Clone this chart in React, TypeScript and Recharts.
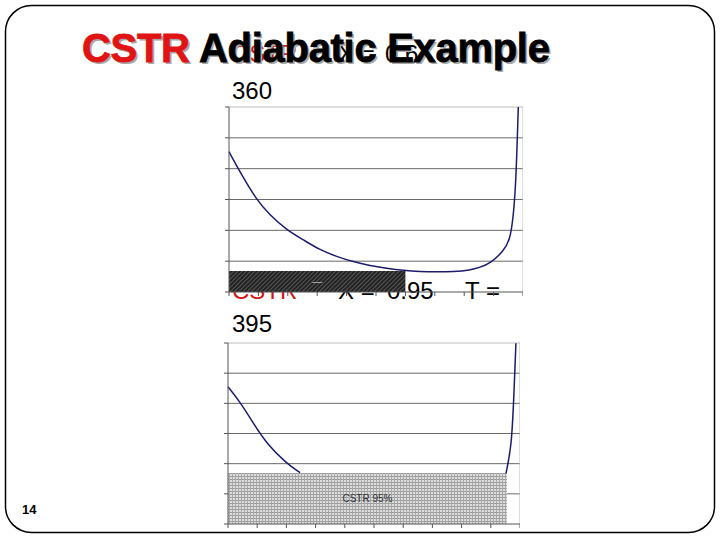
import React from 'react';
import { LineChart, Line, XAxis, YAxis, CartesianGrid, ReferenceArea, ReferenceLine } from 'recharts';

// Chart 1 (X = 0.6 case): curve readings
const conv1 = [0, 0.037, 0.094, 0.139, 0.196, 0.253, 0.31, 0.366, 0.423, 0.48, 0.536, 0.593, 0.65, 0.706, 0.763, 0.82, 0.854, 0.888, 0.933, 0.956, 0.967, 0.976, 0.984];
const curve1 = [4.55, 3.9, 2.98, 2.5, 2.01, 1.69, 1.36, 1.15, 0.98, 0.85, 0.77, 0.7, 0.66, 0.65, 0.66, 0.71, 0.8, 0.93, 1.31, 1.69, 2.44, 3.53, 6.0];

// Chart 2 (X = 0.95 case): visible curve readings (hidden part is null)
const conv2 = [0, 0.041, 0.087, 0.132, 0.2, 0.247, 0.6, 0.952, 0.971, 0.979, 0.986];
const curve2 = [4.55, 4.05, 3.34, 2.67, 2.01, 1.7, null, 1.68, 2.56, 4.22, 5.99];

const xTicks = [0, 0.1, 0.2, 0.3, 0.4, 0.5, 0.6, 0.7, 0.8, 0.9, 1];
const yTicks = [0, 1, 2, 3, 4, 5, 6];
const gridValues = [1, 2, 3, 4, 5];

// Shaded rectangles
const rect1 = { x2: 0.6, h: 0.68, label: '—' };
const rect2 = { x2: 0.955, h: 1.69, label: 'CSTR 95%' };

const data1 = conv1.map((x, i) => ({ x, y: curve1[i] }));
const data2 = conv2.map((x, i) => ({ x, y: curve2[i] }));

const FONT = 'Arial, "Liberation Sans", sans-serif';
const LINE = '#1c1c6b';

function Panel({ data, rect, pattern, width, height }: any) {
  return (
    <LineChart width={width} height={height} data={data} margin={{ top: 5, right: 0, bottom: 0, left: 0 }} style={{ fontFamily: FONT }}>
      <defs>
        <pattern id="hatch" width="3" height="3" patternUnits="userSpaceOnUse" patternTransform="rotate(45)">
          <rect width="3" height="3" fill="#222222" />
          <line x1="0" y1="0" x2="0" y2="3" stroke="#8a8a8a" strokeWidth="1" />
        </pattern>
        <pattern id="dots" width="3" height="3" patternUnits="userSpaceOnUse">
          <rect width="3" height="3" fill="#dedede" />
          <line x1="0" y1="0.5" x2="3" y2="0.5" stroke="#9a9a9a" strokeWidth="1" />
          <line x1="0.5" y1="0" x2="0.5" y2="3" stroke="#a8a8a8" strokeWidth="1" />
        </pattern>
      </defs>
      <CartesianGrid vertical={false} horizontalValues={gridValues} stroke="#6a6a6a" />
      <ReferenceLine y={6} stroke="#bdbdbd" />
      <ReferenceLine x={1} stroke="#bdbdbd" />
      <XAxis dataKey="x" type="number" domain={[0, 1]} ticks={xTicks} interval={0} tickFormatter={() => ''} tickSize={4} height={8} stroke="#555" />
      <YAxis type="number" domain={[0, 6]} ticks={yTicks} interval={0} tickFormatter={() => ''} tickSize={4} width={5} stroke="#555" />
      <ReferenceArea
        x1={0}
        x2={rect.x2}
        y1={0}
        y2={rect.h}
        fill={`url(#${pattern})`}
        fillOpacity={1}
        stroke="none"
        label={{ value: rect.label, position: 'center', fontSize: 10, fill: pattern === 'hatch' ? '#bbbbbb' : '#333333', fontFamily: FONT }}
      />
      <Line dataKey="y" type="basis" dot={false} stroke={LINE} strokeWidth={1.5} isAnimationActive={false} connectNulls={false} />
    </LineChart>
  );
}

export default function App() {
  return (
    <div style={{ position: 'absolute', left: 0, top: 0, width: 720, height: 540, background: '#fff', fontFamily: FONT }}>
      <svg width={720} height={540} style={{ position: 'absolute', left: 0, top: 0 }}>
        <rect x={5.5} y={5.5} width={709} height={527} rx={26} ry={26} fill="none" stroke="#000" strokeWidth={1.5} />
        {/* text hidden behind title */}
        <g fontFamily={FONT} fontSize={24}>
          <text x={232} y={62} fill="#d01818">CSTR</text>
          <text x={338} y={62} fill="#000">X =</text>
          <text x={385} y={62} fill="#000">0.6</text>
        </g>
        {/* title shadow */}
        <text x={84} y={64} fontFamily={FONT} fontWeight="bold" fontSize={40} fill="#a8a8a8" letterSpacing={-0.3}>CSTR Adiabatic Example</text>
        <text x={82} y={62} fontFamily={FONT} fontWeight="bold" fontSize={40} letterSpacing={-0.3}>
          <tspan fill="#e01414" stroke="#e01414" strokeWidth={0.8}>CSTR</tspan>
          <tspan fill="#000" stroke="#000" strokeWidth={0.8}> Adiabatic Example</tspan>
        </text>
        <text x={232} y={99} fontFamily={FONT} fontSize={24} fill="#000">360</text>
        <g fontFamily={FONT} fontSize={24}>
          <text x={232} y={299} fill="#d01818">CSTR</text>
          <text x={338} y={299} fill="#000">X =</text>
          <text x={387} y={299} fill="#000">0.95</text>
          <text x={465} y={299} fill="#000">T =</text>
        </g>
        <text x={232} y={332} fontFamily={FONT} fontSize={24} fill="#000">395</text>
        <text x={22} y={514} fontFamily={FONT} fontWeight="bold" fontSize={13} fill="#000">14</text>
      </svg>
      <div style={{ position: 'absolute', left: 224, top: 102 }}>
        <Panel data={data1} rect={rect1} pattern="hatch" width={299} height={198} />
      </div>
      <div style={{ position: 'absolute', left: 223, top: 338 }}>
        <Panel data={data2} rect={rect2} pattern="dots" width={297} height={194} />
      </div>
    </div>
  );
}
